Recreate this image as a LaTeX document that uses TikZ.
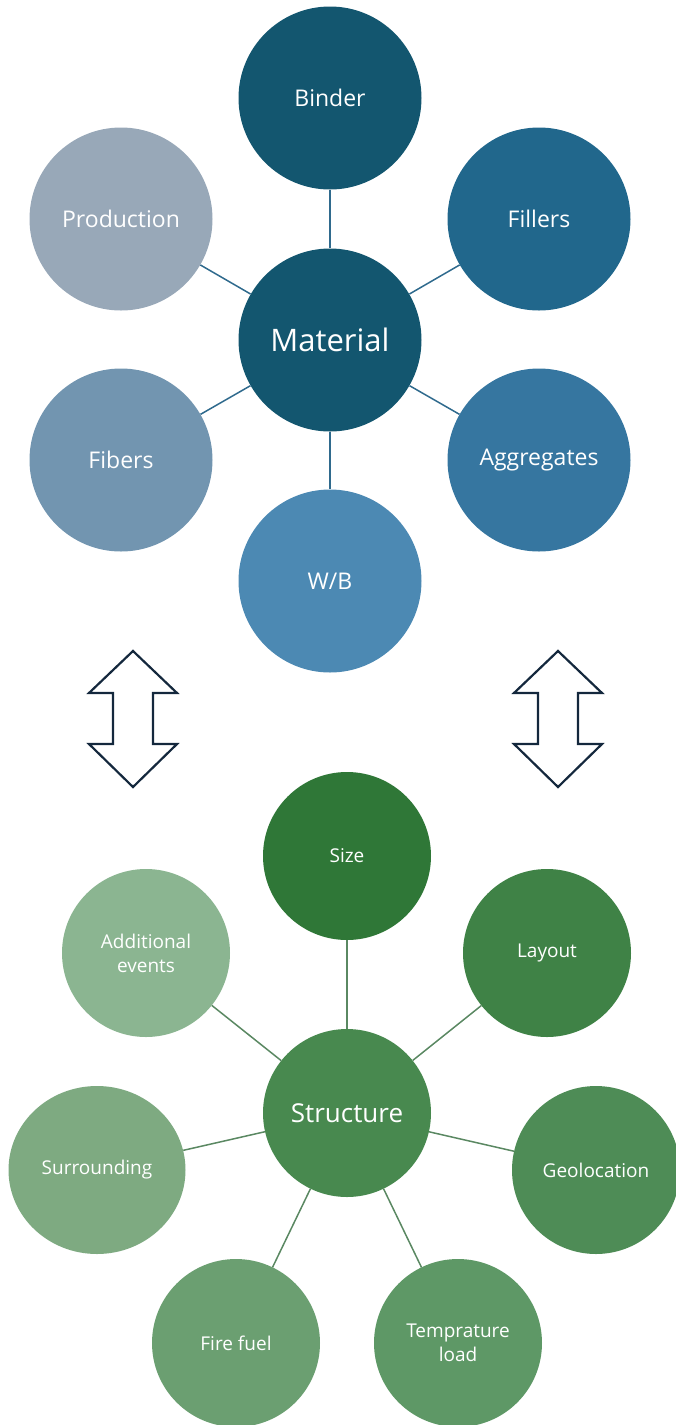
\documentclass[tikz,border=0pt]{standalone}
\usepackage{fontspec}
\setmainfont{Open Sans}
\usetikzlibrary{positioning, calc, shapes.geometric}

\definecolor{matA}{HTML}{13566F}
\definecolor{matB}{HTML}{21678C}
\definecolor{matC}{HTML}{3676A0}
\definecolor{matD}{HTML}{4C89B3}
\definecolor{matE}{HTML}{7295B0}
\definecolor{matF}{HTML}{98A8B8}
\definecolor{matLine}{HTML}{2F6A8D}
\definecolor{strA}{HTML}{48894F}
\definecolor{strB}{HTML}{2F7737}
\definecolor{strC}{HTML}{3F8246}
\definecolor{strD}{HTML}{4E8C56}
\definecolor{strE}{HTML}{5E9866}
\definecolor{strF}{HTML}{6B9F71}
\definecolor{strG}{HTML}{7EAA81}
\definecolor{strH}{HTML}{8BB591}
\definecolor{strLine}{HTML}{5A8862}
\definecolor{arrowLine}{HTML}{14283D}

\begin{document}
\begin{tikzpicture}[
    x=1pt, y=-1pt,
    bubble/.style={circle, inner sep=0pt, minimum size=183pt, text=white, align=center, font=\fontsize{23}{26}\selectfont},
    leaf/.style={circle, inner sep=0pt, minimum size=168pt, text=white, align=center, font=\fontsize{19}{24}\selectfont},
    matlink/.style={draw=matLine, line width=1.5pt},
    strlink/.style={draw=strLine, line width=1.5pt}
]
    \useasboundingbox (0,0) rectangle (676,1425);
    \clip (0,0) rectangle (676,1425);

    % material cluster
    \node[bubble, fill=matA, font=\fontsize{31}{34}\selectfont] (mat) at (330,340) {Material};
    \node[bubble, fill=matA] (binder) at (330,98) {Binder};
    \node[bubble, fill=matB] (fillers) at (539,219) {Fillers};
    \node[bubble, fill=matC] (aggr) at (539,460) {Aggregates};
    \node[bubble, fill=matD] (wb) at (330,581) {W/B};
    \node[bubble, fill=matE] (fibers) at (121,460) {Fibers};
    \node[bubble, fill=matF] (prod) at (121,219) {Production};

    \foreach \n in {binder, fillers, aggr, wb, fibers, prod}
        \draw[matlink] (mat) -- (\n);

    % double arrows
    \foreach \ax/\nm in {133/arrL, 558/arrR} {
        \coordinate (\nm) at (\ax,718);
        \draw[arrowLine, line width=2.2pt, line join=miter]
            ($(\nm)+(0,-67)$) -- ($(\nm)+(44,-25)$) -- ($(\nm)+(20,-25)$) -- ($(\nm)+(20,26)$)
            -- ($(\nm)+(44,26)$) -- ($(\nm)+(0,69)$) -- ($(\nm)+(-44,26)$) -- ($(\nm)+(-20,26)$)
            -- ($(\nm)+(-20,-25)$) -- ($(\nm)+(-44,-25)$) -- cycle;
    }

    % structure cluster
    \node[leaf, fill=strA, font=\fontsize{26}{29}\selectfont] (str) at (347,1113) {Structure};
    \node[leaf, fill=strB] (size) at (347,856) {Size};
    \node[leaf, fill=strC] (layout) at (547,953) {Layout};
    \node[leaf, fill=strD] (geo) at (596,1170) {Geolocation};
    \node[leaf, fill=strE] (temp) at (458,1343) {Temprature\\load};
    \node[leaf, fill=strF] (fuel) at (236,1343) {Fire fuel};
    \node[leaf, ellipse, minimum width=177pt, minimum height=168pt, fill=strG] (surr) at (97,1170) {Surrounding};
    \node[leaf, fill=strH] (addev) at (146,953) {Additional\\events};

    \foreach \n in {size, layout, geo, temp, fuel, surr, addev}
        \draw[strlink] (str) -- (\n);
\end{tikzpicture}
\end{document}
